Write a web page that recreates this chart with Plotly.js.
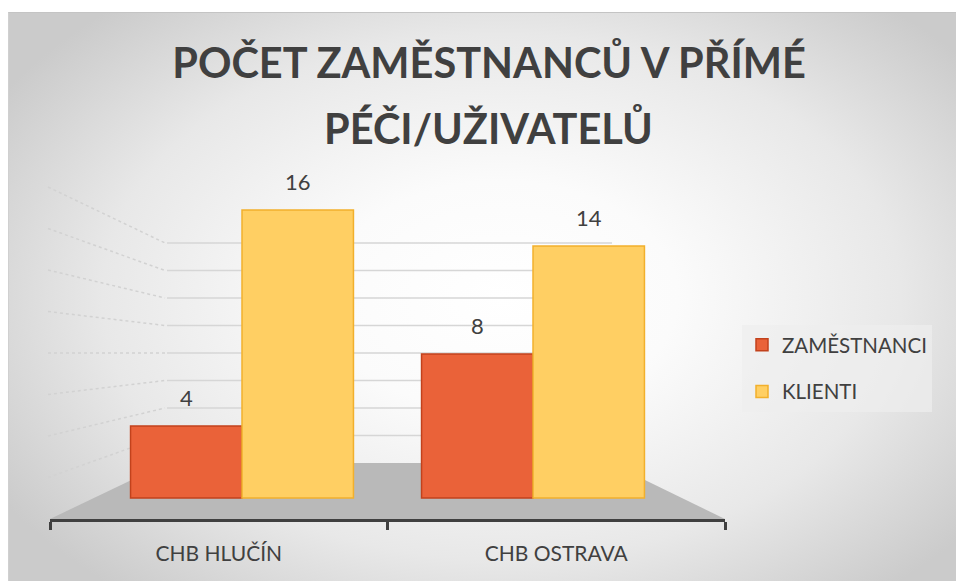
<!DOCTYPE html>
<html><head><meta charset="utf-8">
<script src="https://cdn.plot.ly/plotly-3.0.1.min.js"></script>
<style>
html,body{margin:0;padding:0;background:#fff;width:956px;height:581px;overflow:hidden}
#bg{position:absolute;left:8px;top:12px;width:948px;height:569px;border-top:1px solid #c4c4c4;border-left:1px solid #d0d0d0;box-sizing:border-box;
background:radial-gradient(ellipse 62% 68% at 52% 50%, #ffffff 0%, #fbfbfb 30%, #e8e8e8 68%, #cbcbcb 100%);}
#chart{position:absolute;left:0;top:0;width:956px;height:581px}
</style></head><body><div id="bg"></div><div id="chart"></div>
<script>
// ---- data ----
const categories = ['CHB HLUČÍN', 'CHB OSTRAVA'];
const seriesNames = ['ZAMĚSTNANCI', 'KLIENTI'];
const zamestnanci = [4, 8];
const klienti = [16, 14];
const wallGridValues = [2, 4, 6, 8, 10, 12, 14, 16];
const titleLines = ['POČET ZAMĚSTNANCŮ V PŘÍMÉ', 'PÉČI/UŽIVATELŮ'];

// ---- layout helpers (page pixels -> paper fractions) ----
const W = 956, H = 581;
const px = x => x / W;
const py = y => (H - y) / H;
const FONT = 'Lato, "Open Sans", sans-serif';
const TXT = '#404040';
const titleFont = {family: FONT, size: 41.5, weight: 'bold', color: TXT};

const colors = {
  z: {fill: '#EA6239', line: '#C2421C'},
  k: {fill: '#FFCF63', line: '#F2B02C'}
};

const traces = [
  {type: 'bar', x: categories, y: zamestnanci, name: seriesNames[0],
   offsetgroup: 'z', legendgroup: 'z', xaxis: 'x', yaxis: 'y',
   marker: {color: colors.z.fill, line: {color: colors.z.line, width: 1.5}},
   hoverinfo: 'skip'},
  {type: 'bar', x: categories, y: klienti, name: seriesNames[1],
   offsetgroup: 'k', legendgroup: 'k', xaxis: 'x', yaxis: 'y',
   marker: {color: colors.k.fill, line: {color: colors.k.line, width: 1.5}},
   hoverinfo: 'skip'},
  {type: 'scatter', mode: 'markers+text', x: categories, y: zamestnanci,
   text: zamestnanci.map(String), textposition: 'top center',
   offsetgroup: 'z', xaxis: 'x', yaxis: 'y', showlegend: false, cliponaxis: false,
   marker: {size: 22, color: 'rgba(0,0,0,0)'}, textfont: {family: FONT, size: 22, color: TXT},
   hoverinfo: 'skip'},
  {type: 'scatter', mode: 'markers+text', x: categories, y: klienti,
   text: klienti.map(String), textposition: 'top center',
   offsetgroup: 'k', xaxis: 'x', yaxis: 'y', showlegend: false, cliponaxis: false,
   marker: {size: 22, color: 'rgba(0,0,0,0)'}, textfont: {family: FONT, size: 22, color: TXT},
   hoverinfo: 'skip'},
  // category axis carrier (labels + axis line)
  {type: 'scatter', mode: 'none', x: categories, y: [0, 0], xaxis: 'x2', yaxis: 'y',
   showlegend: false, hoverinfo: 'skip'}
];

// floor & wall decorations
const shapes = [
  {type: 'path', xref: 'paper', yref: 'paper', layer: 'below',
   path: `M${px(50)},${py(519)} L${px(725)},${py(519)} L${px(610)},${py(463)} L${px(167)},${py(463)} Z`,
   fillcolor: '#b9b9b9', line: {width: 0}}
];
wallGridValues.forEach(v => {
  shapes.push({type: 'line', xref: 'paper', yref: 'y2', layer: 'below',
    x0: px(167), x1: px(612), y0: v, y1: v, line: {color: '#d6d6d6', width: 1.5}});
  shapes.push({type: 'line', xref: 'paper', yref: 'paper', layer: 'below',
    x0: px(48), y0: py(519 - 20.75 * v), x1: px(165), y1: py(463 - 13.75 * v),
    line: {color: '#d2d2d2', width: 1.5, dash: 'dot'}});
});

const layout = {
  width: W, height: H, autosize: false,
  margin: {l: 0, r: 0, t: 0, b: 0, pad: 0},
  paper_bgcolor: 'rgba(0,0,0,0)', plot_bgcolor: 'rgba(0,0,0,0)',
  font: {family: FONT, color: TXT},
  title: {text: titleLines[0], x: px(489), xanchor: 'center', xref: 'paper',
          y: py(63), yanchor: 'middle', yref: 'container', font: titleFont},
  annotations: [
    {text: titleLines[1], xref: 'paper', yref: 'paper', x: px(488), y: py(128),
     xanchor: 'center', yanchor: 'middle', showarrow: false, font: titleFont}
  ],
  barmode: 'group', bargap: 0.234, bargroupgap: 0,
  scattermode: 'group', scattergap: 0.234,
  xaxis: {domain: [px(96.5), px(678.5)], type: 'category', range: [-0.5, 1.5],
          visible: false, fixedrange: true},
  xaxis2: {domain: [px(50), px(725)], anchor: 'y', type: 'category', range: [-0.5, 1.5],
           showline: true, linecolor: '#404040', linewidth: 3,
           ticks: 'outside', tickson: 'boundaries', ticklen: 8, tickwidth: 3, tickcolor: '#404040',
           tickfont: {family: FONT, size: 21, color: TXT}, ticklabelstandoff: 14,
           showgrid: false, zeroline: false, fixedrange: true},
  yaxis: {domain: [py(519), py(180)], range: [-1.1667, 17.667], visible: false, fixedrange: true},
  yaxis2: {overlaying: 'y', range: [-4.0727, 20.582], visible: false, fixedrange: true},
  legend: {x: px(742), xanchor: 'left', y: py(325), yanchor: 'top',
           bgcolor: 'rgba(238,238,238,0.7)', font: {family: FONT, size: 20.5, color: TXT},
           tracegroupgap: 17, traceorder: 'grouped', itemclick: false, itemdoubleclick: false},
  shapes: shapes,
  showlegend: true
};

Plotly.newPlot('chart', traces, layout, {displayModeBar: false, staticPlot: true});
</script>
</body></html>
